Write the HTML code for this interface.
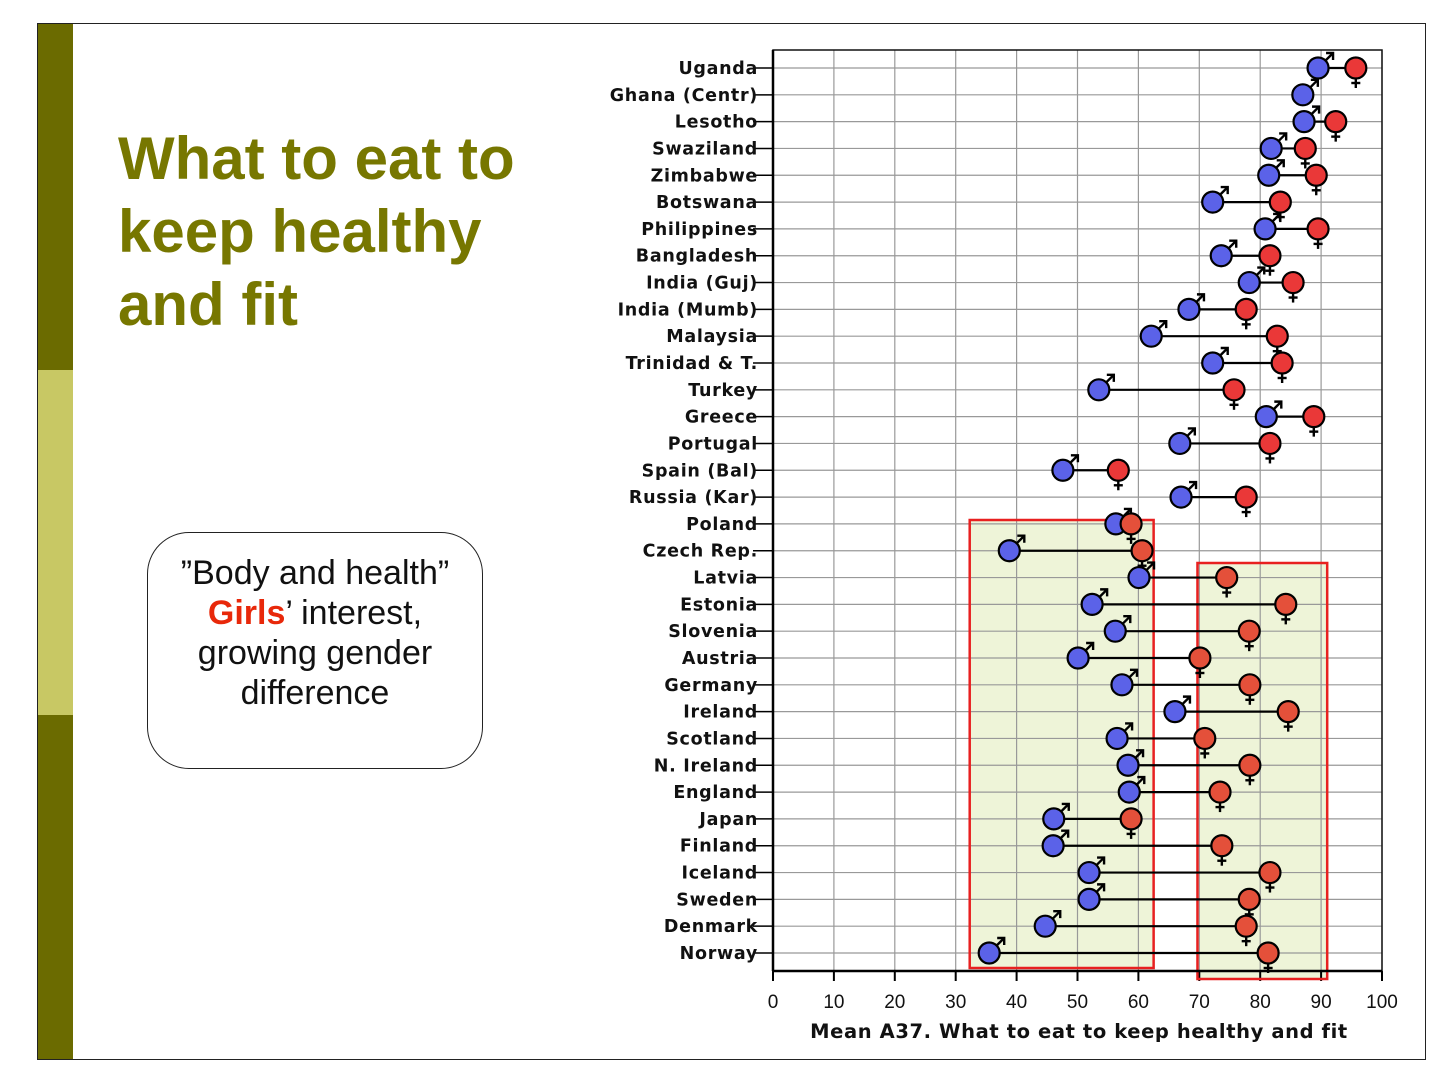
<!DOCTYPE html>
<html><head><meta charset="utf-8"><style>
body{margin:0;background:#fff;width:1456px;height:1085px;overflow:hidden;position:relative;font-family:"Liberation Sans",sans-serif}
.frame{position:absolute;left:37px;top:23px;width:1389px;height:1037px;border:1.5px solid #222;box-sizing:border-box}
.bar{position:absolute;left:38px;width:35px}
.title{position:absolute;left:118px;top:122px;font-size:60px;font-weight:bold;color:#777700;line-height:73px}
.callout{position:absolute;left:147px;top:532px;width:336px;height:237px;border:1.5px solid #222;border-radius:42px;box-sizing:border-box;text-align:center;font-size:34px;line-height:40px;padding-top:20px;color:#111}
svg{position:absolute;left:0;top:0}
</style></head><body>
<div class="frame"></div>
<div class="bar" style="top:24px;height:346px;background:#6b6b00"></div>
<div class="bar" style="top:370px;height:345px;background:#c8c864"></div>
<div class="bar" style="top:715px;height:344px;background:#6b6b00"></div>
<div class="title">What to eat to<br>keep healthy<br>and fit</div>
<div class="callout">”Body and health”<br><span style="color:#e8280a;font-weight:bold">Girls</span>’ interest,<br>growing gender<br>difference</div>
<svg id="chart" width="1456" height="1085"></svg>
<script>
const countries=["Uganda","Ghana (Centr)","Lesotho","Swaziland","Zimbabwe","Botswana","Philippines","Bangladesh","India (Guj)","India (Mumb)","Malaysia","Trinidad & T.","Turkey","Greece","Portugal","Spain (Bal)","Russia (Kar)","Poland","Czech Rep.","Latvia","Estonia","Slovenia","Austria","Germany","Ireland","Scotland","N. Ireland","England","Japan","Finland","Iceland","Sweden","Denmark","Norway"];
const boys=[89.5,87,87.2,81.8,81.4,72.2,80.8,73.6,78.2,68.3,62.1,72.2,53.5,81,66.8,47.6,67,56.3,38.8,60.1,52.4,56.2,50.1,57.3,66,56.5,58.3,58.5,46.1,46,51.9,51.9,44.7,35.5];
const girls=[95.7,null,92.4,87.4,89.2,83.3,89.5,81.6,85.4,77.7,82.8,83.6,75.7,88.8,81.6,56.7,77.7,58.8,60.6,74.5,84.2,78.2,70.1,78.3,84.6,70.9,78.3,73.4,58.8,73.7,81.6,78.2,77.7,81.3];
const xTicks=[0,10,20,30,40,50,60,70,80,90,100];
const NS="http://www.w3.org/2000/svg";
const svg=document.getElementById('chart');
const X0=773,X1=1382,Y0=50,Y1=971;
const x=v=>X0+(X1-X0)*v/100;
const y=i=>68+i*(953-68)/(countries.length-1);
function mk(t,a,p){const e=document.createElementNS(NS,t);for(const k in a)e.setAttribute(k,a[k]);(p||svg).appendChild(e);return e;}
let b1=mk('rect',{x:x(32.3),y:520,width:x(62.5)-x(32.3),height:448,fill:'#eef4d8',stroke:'none'});


let b2=mk('rect',{x:x(69.7),y:563,width:x(91)-x(69.7),height:416,fill:'#eef4d8',stroke:'none'});


xTicks.forEach(t=>{
 let g=mk('line',{x1:x(t),x2:x(t),y1:Y0,y2:Y1,stroke:'#999','stroke-width':1.2});
 
 
 let tk=mk('line',{x1:x(t),x2:x(t),y1:Y1,y2:Y1+10,stroke:'#000','stroke-width':2});
 
 
 let lb=mk('text',{x:x(t),y:Y1+37,'text-anchor':'middle','font-size':19,'font-family':'Liberation Sans, sans-serif',fill:'#111'});
 lb.textContent=t;
 
 
});
countries.forEach((c,i)=>{
 let g=mk('line',{x1:X0,x2:X1,y1:y(i),y2:y(i),stroke:'#999','stroke-width':1.2});
 
 
 let tk=mk('line',{x1:753,x2:X0,y1:y(i),y2:y(i),stroke:'#000','stroke-width':1.5});
 
 
 let lb=mk('text',{x:758,y:y(i)+6,'text-anchor':'end','font-size':17.5,'font-weight':'bold','letter-spacing':'0.7','font-family':'DejaVu Sans, sans-serif',fill:'#111'});
 lb.textContent=c;
 
 
});
let r1=mk('rect',{x:x(32.3),y:520,width:x(62.5)-x(32.3),height:448,fill:'none',stroke:'#e82020','stroke-width':2.5});


let r2=mk('rect',{x:x(69.7),y:563,width:x(91)-x(69.7),height:416,fill:'none',stroke:'#e82020','stroke-width':2.5});


let ax=mk('rect',{x:X0,y:Y0,width:X1-X0,height:Y1-Y0,fill:'none',stroke:'#111','stroke-width':1.5});


let xa=mk('line',{x1:X0,x2:X1,y1:Y1,y2:Y1,stroke:'#000','stroke-width':2.5});


let ya=mk('line',{x1:X0,x2:X0,y1:Y0,y2:Y1,stroke:'#000','stroke-width':2.5});


let xt=mk('text',{x:1079,y:1038,'text-anchor':'middle','font-size':19.5,'font-weight':'bold','letter-spacing':'0.6','font-family':'DejaVu Sans, sans-serif',fill:'#111'});
xt.textContent='Mean A37. What to eat to keep healthy and fit';


countries.forEach((c,i)=>{
 const yy=y(i),bx=x(boys[i]);
 if(girls[i]!=null){
  let l=mk('line',{x1:bx,x2:x(girls[i]),y1:yy,y2:yy,stroke:'#000','stroke-width':2.2});
  
  
 }
 const gb=mk('g',{});
 
 
 mk('line',{x1:bx+6,y1:yy-6,x2:bx+14,y2:yy-14,stroke:'#000','stroke-width':2.4},gb);
 mk('polyline',{points:`${bx+8},${yy-15} ${bx+15},${yy-15} ${bx+15},${yy-8}`,fill:'none',stroke:'#000','stroke-width':2.4},gb);
 mk('circle',{cx:bx,cy:yy,r:10.5,fill:'#5b62e8',stroke:'#000','stroke-width':2.2},gb);
 if(girls[i]!=null){
  const gx=x(girls[i]);
  const gg=mk('g',{});
  
  
  mk('line',{x1:gx,y1:yy+9,x2:gx,y2:yy+20,stroke:'#000','stroke-width':2.4},gg);
  mk('line',{x1:gx-4.5,y1:yy+15,x2:gx+4.5,y2:yy+15,stroke:'#000','stroke-width':2.4},gg);
  mk('circle',{cx:gx,cy:yy,r:10.5,fill:i>=17?'#e4503a':'#ea3838',stroke:'#000','stroke-width':2.2},gg);
 }
});
</script>
</body></html>
